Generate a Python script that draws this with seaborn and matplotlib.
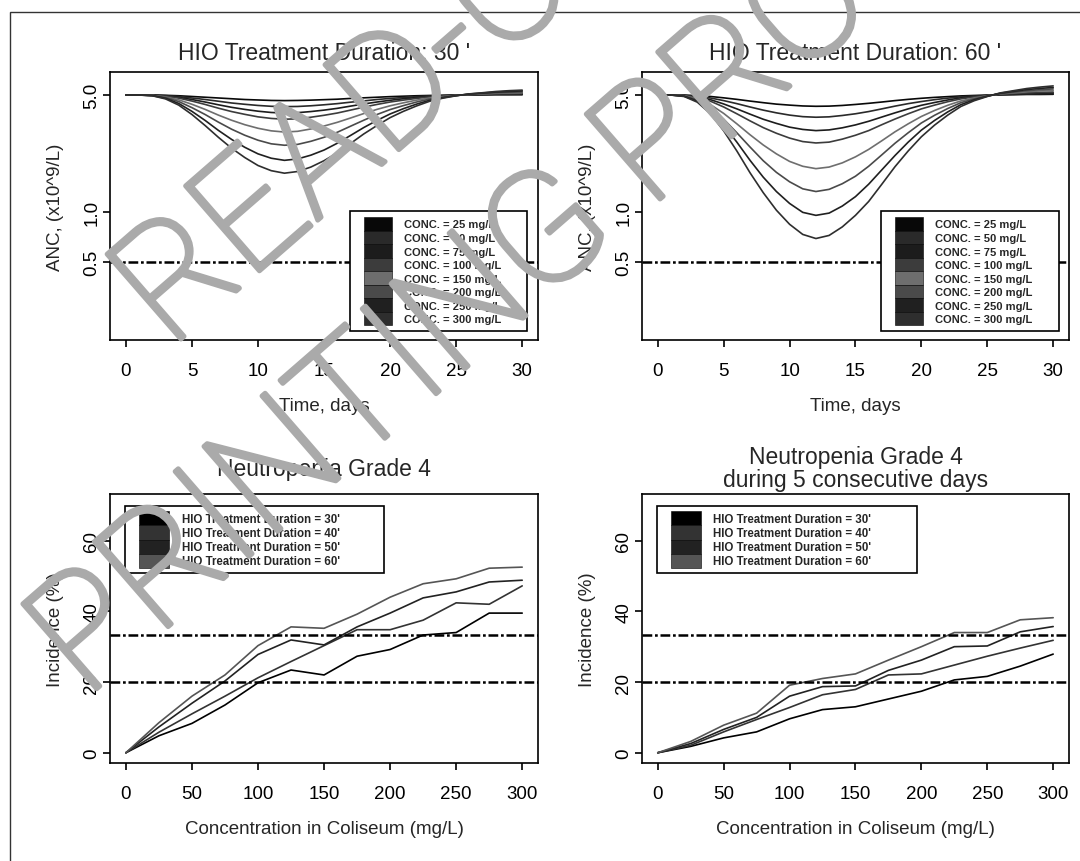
import pandas as pd
import seaborn as sns
import matplotlib.pyplot as plt
import matplotlib.patheffects as pe
from matplotlib.patches import Patch, Rectangle
from matplotlib.legend_handler import HandlerPatch
from matplotlib.ticker import NullLocator

# Données
days = list(range(31))
conc = [25, 50, 75, 100, 150, 200, 250, 300]
conc_labels = [f"CONC. = {c} mg/L" for c in conc]
conc_colors = ['#080808', '#2a2a2a', '#1c1c1c', '#3c3c3c', '#6e6e6e', '#4a4a4a', '#202020', '#2e2e2e']

# ANC (x10^9/L), durée HIO 30'
anc30_c25 = [5.00, 5.00, 5.00, 4.98, 4.95, 4.90, 4.85, 4.80, 4.75, 4.70, 4.67, 4.64, 4.63, 4.64, 4.66, 4.69, 4.72, 4.77, 4.81, 4.85, 4.89, 4.92, 4.95, 4.97, 4.98, 5.00, 5.01, 5.01, 5.02, 5.02, 5.02]
anc30_c50 = [5.00, 5.00, 4.99, 4.96, 4.90, 4.80, 4.70, 4.59, 4.48, 4.40, 4.33, 4.28, 4.26, 4.27, 4.31, 4.37, 4.44, 4.53, 4.61, 4.70, 4.77, 4.83, 4.89, 4.94, 4.97, 4.99, 5.01, 5.02, 5.04, 5.04, 5.05]
anc30_c75 = [5.00, 5.00, 4.99, 4.94, 4.84, 4.70, 4.54, 4.37, 4.22, 4.10, 4.00, 3.93, 3.90, 3.92, 3.98, 4.06, 4.16, 4.29, 4.42, 4.54, 4.65, 4.75, 4.83, 4.90, 4.95, 4.99, 5.02, 5.04, 5.06, 5.07, 5.08]
anc30_c100 = [5.00, 5.00, 4.98, 4.92, 4.79, 4.60, 4.39, 4.17, 3.98, 3.83, 3.70, 3.62, 3.58, 3.60, 3.68, 3.78, 3.90, 4.06, 4.23, 4.39, 4.54, 4.66, 4.77, 4.87, 4.93, 4.98, 5.03, 5.05, 5.08, 5.09, 5.11]
anc30_c150 = [5.00, 5.00, 4.97, 4.87, 4.68, 4.40, 4.10, 3.79, 3.53, 3.32, 3.16, 3.05, 3.00, 3.03, 3.13, 3.26, 3.43, 3.64, 3.87, 4.10, 4.31, 4.49, 4.66, 4.80, 4.90, 4.97, 5.04, 5.08, 5.12, 5.14, 5.16]
anc30_c200 = [5.00, 5.00, 4.97, 4.83, 4.57, 4.20, 3.82, 3.44, 3.12, 2.87, 2.68, 2.55, 2.50, 2.53, 2.64, 2.79, 2.99, 3.25, 3.53, 3.82, 4.09, 4.32, 4.54, 4.73, 4.86, 4.97, 5.05, 5.11, 5.16, 5.19, 5.22]
anc30_c250 = [5.00, 5.00, 4.96, 4.78, 4.45, 3.99, 3.52, 3.07, 2.71, 2.43, 2.22, 2.09, 2.03, 2.07, 2.18, 2.34, 2.57, 2.86, 3.19, 3.52, 3.85, 4.14, 4.41, 4.65, 4.82, 4.96, 5.07, 5.14, 5.21, 5.25, 5.29]
anc30_c300 = [5.00, 5.00, 4.95, 4.74, 4.35, 3.82, 3.28, 2.79, 2.40, 2.11, 1.89, 1.76, 1.70, 1.74, 1.85, 2.02, 2.25, 2.56, 2.92, 3.28, 3.66, 3.99, 4.30, 4.59, 4.79, 4.95, 5.08, 5.16, 5.25, 5.31, 5.35]

# ANC (x10^9/L), durée HIO 60'
anc60_c25 = [5.00, 5.00, 4.99, 4.96, 4.90, 4.81, 4.71, 4.60, 4.50, 4.41, 4.35, 4.30, 4.28, 4.29, 4.33, 4.39, 4.46, 4.54, 4.63, 4.71, 4.78, 4.84, 4.89, 4.94, 4.97, 4.99, 5.01, 5.02, 5.04, 5.04, 5.05]
anc60_c50 = [5.00, 5.00, 4.98, 4.92, 4.80, 4.63, 4.44, 4.24, 4.06, 3.91, 3.79, 3.71, 3.68, 3.70, 3.77, 3.86, 3.98, 4.13, 4.29, 4.44, 4.57, 4.69, 4.79, 4.88, 4.94, 4.98, 5.02, 5.05, 5.07, 5.09, 5.10]
anc60_c75 = [5.00, 5.00, 4.98, 4.88, 4.69, 4.42, 4.13, 3.84, 3.58, 3.38, 3.21, 3.11, 3.06, 3.09, 3.18, 3.31, 3.48, 3.69, 3.91, 4.13, 4.34, 4.51, 4.67, 4.81, 4.90, 4.98, 5.04, 5.07, 5.11, 5.14, 5.16]
anc60_c100 = [5.00, 5.00, 4.97, 4.84, 4.59, 4.24, 3.86, 3.50, 3.19, 2.95, 2.76, 2.63, 2.58, 2.61, 2.72, 2.87, 3.06, 3.32, 3.59, 3.86, 4.13, 4.35, 4.56, 4.74, 4.87, 4.97, 5.05, 5.10, 5.15, 5.19, 5.21]
anc60_c150 = [5.00, 5.00, 4.95, 4.75, 4.38, 3.88, 3.36, 2.89, 2.51, 2.22, 2.00, 1.87, 1.81, 1.85, 1.96, 2.13, 2.36, 2.66, 3.01, 3.36, 3.72, 4.04, 4.34, 4.61, 4.80, 4.95, 5.08, 5.15, 5.23, 5.29, 5.33]
anc60_c200 = [5.00, 5.00, 4.93, 4.68, 4.21, 3.58, 2.97, 2.44, 2.02, 1.72, 1.51, 1.37, 1.32, 1.36, 1.47, 1.63, 1.87, 2.19, 2.57, 2.97, 3.40, 3.78, 4.15, 4.50, 4.74, 4.93, 5.10, 5.20, 5.31, 5.38, 5.44]
anc60_c250 = [5.00, 5.00, 4.92, 4.60, 4.03, 3.30, 2.61, 2.03, 1.61, 1.32, 1.12, 0.99, 0.95, 0.98, 1.08, 1.23, 1.46, 1.78, 2.17, 2.61, 3.08, 3.52, 3.96, 4.38, 4.68, 4.92, 5.13, 5.26, 5.39, 5.48, 5.55]
anc60_c300 = [5.00, 5.00, 4.90, 4.53, 3.86, 3.05, 2.31, 1.71, 1.30, 1.02, 0.84, 0.73, 0.69, 0.72, 0.81, 0.95, 1.15, 1.46, 1.86, 2.31, 2.81, 3.30, 3.79, 4.27, 4.62, 4.90, 5.15, 5.31, 5.47, 5.58, 5.67]

# Incidence (%) en fonction de la concentration
conc_x = [0, 25, 50, 75, 100, 125, 150, 175, 200, 225, 250, 275, 300]
durations = [30, 40, 50, 60]
dur_labels = [f"HIO Treatment Duration = {d}'" for d in durations]
dur_colors = ['#000000', '#333333', '#222222', '#555555']

g4_d30 = [0, 4.8, 8.3, 13.5, 19.8, 23.4, 22.0, 27.3, 29.2, 33.3, 34.0, 39.5, 39.5]
g4_d40 = [0, 5.8, 11.0, 16.0, 21.2, 25.8, 30.3, 34.8, 34.8, 37.5, 42.4, 42.0, 47.2]
g4_d50 = [0, 7.3, 14.0, 20.3, 27.8, 31.9, 30.5, 35.6, 39.5, 43.8, 45.5, 48.3, 48.8]
g4_d60 = [0, 8.5, 16.0, 22.0, 30.3, 35.6, 35.2, 39.2, 44.0, 47.8, 49.2, 52.2, 52.5]

g4c_d30 = [0, 1.8, 4.2, 5.9, 9.6, 12.2, 13.0, 15.2, 17.4, 20.6, 21.6, 24.5, 27.9]
g4c_d40 = [0, 2.1, 5.9, 9.4, 12.8, 16.4, 17.9, 22.0, 22.3, 24.8, 27.3, 29.6, 31.8]
g4c_d50 = [0, 2.6, 6.6, 10.0, 16.0, 18.7, 18.9, 23.3, 26.2, 30.0, 30.2, 34.2, 35.7]
g4c_d60 = [0, 3.2, 7.8, 11.2, 19.1, 21.0, 22.3, 26.2, 30.0, 34.0, 34.0, 37.6, 38.2]

anc_threshold = 0.5
incidence_thresholds = [20, 33.3]


def long_frame(xs, series, keys, xname, yname, kname):
    rows = []
    for k, vals in zip(keys, series):
        rows += [(x, v, k) for x, v in zip(xs, vals)]
    return pd.DataFrame(rows, columns=[xname, yname, kname])


df_anc30 = long_frame(days, [anc30_c25, anc30_c50, anc30_c75, anc30_c100, anc30_c150, anc30_c200, anc30_c250, anc30_c300], conc, 'day', 'anc', 'conc')
df_anc60 = long_frame(days, [anc60_c25, anc60_c50, anc60_c75, anc60_c100, anc60_c150, anc60_c200, anc60_c250, anc60_c300], conc, 'day', 'anc', 'conc')
df_g4 = long_frame(conc_x, [g4_d30, g4_d40, g4_d50, g4_d60], durations, 'conc', 'inc', 'dur')
df_g4c = long_frame(conc_x, [g4c_d30, g4c_d40, g4c_d50, g4c_d60], durations, 'conc', 'inc', 'dur')

sns.set_style('ticks')
plt.rcParams['font.family'] = ['Liberation Sans', 'DejaVu Sans']

fig = plt.figure(figsize=(10.8, 8.62), dpi=100)
ax_tl = fig.add_axes([0.1019, 0.6044, 0.3963, 0.3109])
ax_tr = fig.add_axes([0.5944, 0.6044, 0.3954, 0.3109])
ax_bl = fig.add_axes([0.1019, 0.1137, 0.3963, 0.3121])
ax_br = fig.add_axes([0.5944, 0.1137, 0.3954, 0.3121])

dashdot = (0, (3.9, 1.1, 1.1, 1.1))


def swatch(legend, orig_handle, xdescent, ydescent, width, height, fontsize):
    off = 0.75 * fontsize
    return Rectangle((-xdescent + off, -ydescent), width - off, height)


def style_axes(ax):
    for s in ax.spines.values():
        s.set_visible(True)
        s.set_linewidth(1.2)
        s.set_color('black')
    ax.tick_params(axis='both', direction='out', length=5, width=1.2,
                   labelsize=13.5, colors='black')
    ax.tick_params(axis='x', pad=11)
    ax.tick_params(axis='y', pad=2, labelrotation=90)
    for lbl in ax.get_yticklabels():
        lbl.set_va('center')


def add_legend(ax, labels, colors, x0, w, loc, y0, fs):
    handles = [Patch(facecolor=c, edgecolor='black', linewidth=0.4) for c in colors]
    if loc == 'lower left':
        anchor = (x0, y0, w, 0.5)
    else:
        anchor = (x0, y0 - 0.5, w, 0.5)
    leg = ax.legend(handles, labels, loc=loc, bbox_to_anchor=anchor, mode='expand',
                    borderaxespad=0, prop={'size': fs, 'weight': 'bold'},
                    handlelength=3.3, handleheight=1.5, labelspacing=0,
                    handletextpad=1.1, borderpad=0.5, frameon=True, fancybox=False,
                    edgecolor='black', framealpha=1,
                    handler_map={Patch: HandlerPatch(patch_func=swatch)})
    leg.get_frame().set_linewidth(1.2)
    leg.set_zorder(5)
    return leg


# Panneaux du haut : ANC au cours du temps
for ax, df, title in [(ax_tl, df_anc30, "HIO Treatment Duration: 30 '"),
                      (ax_tr, df_anc60, "HIO Treatment Duration: 60 '")]:
    ax.set_yscale('log')
    sns.lineplot(data=df, x='day', y='anc', hue='conc', palette=dict(zip(conc, conc_colors)),
                 estimator=None, linewidth=1.2, legend=False, ax=ax)
    ax.axhline(anc_threshold, color='black', lw=1.8, linestyle=dashdot)
    ax.set_xlim(-1.2, 31.2)
    ax.set_ylim(0.17, 6.87)
    ax.set_xticks(range(0, 31, 5))
    ax.set_yticks([0.5, 1.0, 5.0])
    ax.set_yticklabels(['0.5', '1.0', '5.0'])
    ax.yaxis.set_minor_locator(NullLocator())
    ax.set_title(title, fontsize=16.5, pad=9.5)
    ax.set_xlabel('Time, days', fontsize=13.5, labelpad=13)
    ax.set_ylabel('ANC, (x10^9/L)', fontsize=13.5, labelpad=14)
    style_axes(ax)

add_legend(ax_tl, conc_labels, conc_colors, 0.5607, 0.4136, 'lower left', 0.0336, 8)
add_legend(ax_tr, conc_labels, conc_colors, 0.5597, 0.4169, 'lower left', 0.0336, 8)

# Panneaux du bas : incidence de neutropénie de grade 4
for ax, df, title, tpad in [(ax_bl, df_g4, 'Neutropenia Grade 4', 14),
                            (ax_br, df_g4c, 'Neutropenia Grade 4\nduring 5 consecutive days', 6)]:
    sns.lineplot(data=df, x='conc', y='inc', hue='dur', palette=dict(zip(durations, dur_colors)),
                 estimator=None, linewidth=1.2, legend=False, ax=ax)
    for thr in incidence_thresholds:
        ax.axhline(thr, color='black', lw=1.8, linestyle=dashdot)
    ax.set_xlim(-12, 312)
    ax.set_ylim(-2.9, 73.2)
    ax.set_xticks(range(0, 301, 50))
    ax.set_yticks([0, 20, 40, 60])
    ax.set_title(title, fontsize=16.5, pad=tpad, linespacing=1.0)
    ax.set_xlabel('Concentration in Coliseum (mg/L)', fontsize=13.5, labelpad=13)
    ax.set_ylabel('Incidence (%)', fontsize=13.5, labelpad=14)
    style_axes(ax)

add_legend(ax_bl, dur_labels, dur_colors, 0.035, 0.605, 'upper left', 0.9565, 8.3)
add_legend(ax_br, dur_labels, dur_colors, 0.0351, 0.609, 'upper left', 0.9565, 8.3)

# Cadre extérieur
fig.add_artist(Rectangle((10 / 1080, -0.1), 1.2, 1.1 - 13 / 862, transform=fig.transFigure,
                         fill=False, lw=1.0, edgecolor='#333333'))

# Filigrane
wm = dict(rotation=41, rotation_mode='anchor', ha='left', va='baseline', fontsize=114,
          color='#aaaaaa', family=['Roboto', 'Liberation Sans'], weight='light', zorder=10,
          path_effects=[pe.withStroke(linewidth=3.5, foreground='#aaaaaa')])
fig.text(0.157, 0.594, 'READ-ONLY', **wm)
fig.text(0.0787, 0.188, 'PRINTING PROOF', **wm)

fig.savefig('out.png', dpi=100)
